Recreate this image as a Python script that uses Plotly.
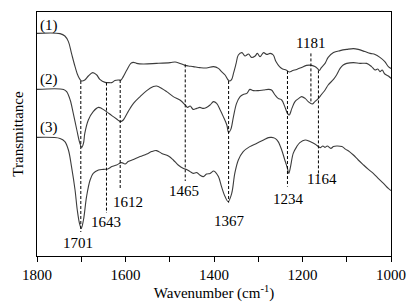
import plotly.graph_objects as go

# Wavenumbers (cm^-1) and transmittance (arbitrary units)
wn1 = [1800,1748,1737,1729,1722,1714,1707,1699,1692,1684,1674,1665,1658,1646,1639,1631,1624,1616,1610,1605,
       1597,1588,1582,1575,1560,1530,1499,1488,1477,1465,1458,1447,1432,1417,1401,1390,1383,1375,1368,1364,
       1360,1356,1350,1345,1337,1330,1322,1315,1307,1302,1296,1288,1281,1273,1266,1260,1252,1245,1237,1230,
       1222,1213,1202,1191,1179,1172,1166,1162,1157,1149,1142,1130,1115,1100,1085,1074,1059,1047,1036,1025,
       1014,1006,1000]
t1 = [111.3,111.2,110,107.2,101.3,94.7,90,87.5,88,90,91.7,90.5,88.3,86.8,86.7,86.7,87.7,88,88,89.7,
      93,96.3,96.8,96.3,96,96.3,96.7,97,96.3,95.3,95,94.7,94.2,94,94.7,93.8,92.2,90.5,88,87.5,
      88.3,91.3,96.3,100.5,101.7,100,101,99.3,100,101.3,99.7,101.7,100.8,101.3,100.5,97.2,94.7,93.5,93,92,
      92.7,93.3,94.3,95.3,95.3,94.7,93.7,92.8,94.3,96.3,99.3,101.7,102.7,103.3,103.7,103.3,102.2,101.3,100.8,99.3,
      97.2,94.7,93.8]

wn2 = [1800,1740,1733,1725,1718,1710,1703,1699,1695,1692,1684,1673,1661,1654,1643,1631,1620,1611,1605,1594,
       1582,1567,1552,1537,1530,1518,1507,1492,1477,1465,1460,1454,1447,1439,1432,1424,1417,1409,1401,1394,
       1386,1379,1371,1367,1362,1356,1349,1341,1334,1326,1319,1311,1300,1288,1277,1270,1262,1255,1247,1240,
       1234,1230,1224,1217,1209,1202,1194,1187,1178,1172,1164,1157,1149,1142,1130,1123,1115,1108,1100,1085,
       1070,1055,1044,1036,1030,1025,1020,1014,1006,1000]
t2 = [83.3,83.3,82.2,78,71.3,63,56.3,54.3,56.3,61.3,68,72.2,74.3,73.8,72.2,70.2,68.5,67.2,68,72.2,
      76.3,79.7,82.7,84.7,85,83.8,82.2,79.7,78,75.5,74.3,75,73.3,73.8,74.3,73.8,74.3,75.5,77.2,76.3,
      73,69.7,65.5,61.7,63.3,69.7,76.3,79.7,80.8,81.3,83.3,82.7,82.7,83,83.3,83,80.5,78.8,78,74.7,
      71.3,70.5,73.8,77.2,78.7,79.7,78.8,77.2,76,77.2,78.8,80.8,83,85.5,88.3,90.5,93.8,95.5,96.3,96.7,
      96.3,96.3,94.7,93,93.5,92.2,93,91,90,88.8]

wn3 = [1800,1748,1737,1729,1722,1714,1709,1704,1700,1695,1688,1680,1673,1661,1650,1640,1631,1620,1609,1601,
       1594,1582,1567,1552,1541,1530,1518,1503,1492,1481,1469,1462,1454,1447,1439,1432,1424,1417,1409,1401,
       1398,1390,1383,1375,1368,1360,1353,1345,1334,1319,1304,1288,1277,1270,1262,1255,1247,1240,1234,1231,
       1227,1221,1213,1206,1194,1183,1172,1164,1160,1154,1149,1144,1136,1130,1123,1111,1102,1094,1085,1074,
       1062,1051,1040,1029,1017,1006,1000]
t3 = [59.3,58.8,57.2,53,44.7,33,23,16.3,13.8,18,29.7,38,41.3,43,43.3,43.5,44.7,45.5,46.7,46,
      47.2,48.3,49.7,51,52.2,52.7,51.3,50,48,45.5,43.8,43.3,42.2,41.3,41.7,40.5,39.7,41,41.3,42.5,
      42.2,39.7,34.7,29.7,27.2,31.3,41.3,48,52.2,54.7,56.3,58,59.2,59.3,58.8,57.2,53,48,43.8,41.3,
      44.7,51.3,54.7,56.7,58,57.2,56,54.7,54.2,55,54.3,55,53.8,54.7,55,54.7,53.3,52.2,50.5,48,
      45.5,43.3,41.3,38.8,36.3,33.8,32.7]

curve_names = ["(1)", "(2)", "(3)"]
curve_label_wn = [1773, 1773, 1773]
curve_label_t = [115.5, 88.5, 64.5]

peaks = [1701, 1643, 1612, 1465, 1367, 1234, 1181, 1164]
peak_top = [87.5, 86.7, 88, 95.8, 87.5, 92.5, 101.3, 92.8]
peak_bottom = [12, 21.5, 33.5, 37.5, 26.7, 34.7, 76.5, 40]
peak_labels = ["1701", "1643", "1612", "1465", "1367", "1234", "1181", "1164"]
label_wn = [1707, 1645, 1594, 1467, 1364, 1232, 1183, 1157]
label_t = [6.7, 16.8, 26.8, 32.6, 17.6, 28.4, 106.3, 38.4]

FONT = "Liberation Serif"
LINE_COLOR = "#3c3c3c"

fig = go.Figure()
for w, t in [(wn1, t1), (wn2, t2), (wn3, t3)]:
    fig.add_trace(go.Scatter(x=w, y=t, mode="lines", line=dict(color=LINE_COLOR, width=1.1),
                             line_shape="spline", hoverinfo="skip", showlegend=False))

for p, a, b in zip(peaks, peak_top, peak_bottom):
    fig.add_trace(go.Scatter(x=[p, p], y=[a, b], mode="lines",
                             line=dict(color="black", width=1, dash="3px,2px"),
                             hoverinfo="skip", showlegend=False))

for txt, x, y in zip(peak_labels, label_wn, label_t):
    fig.add_annotation(x=x, y=y, text=txt, showarrow=False, xref="x", yref="y",
                       font=dict(family=FONT, size=15, color="black"))

for txt, x, y in zip(curve_names, curve_label_wn, curve_label_t):
    fig.add_annotation(x=x, y=y, text=txt, showarrow=False, xref="x", yref="y",
                       font=dict(family=FONT, size=15, color="black"))

fig.update_layout(
    width=416, height=304,
    margin=dict(l=37, r=25, t=12, b=48, autoexpand=False),
    paper_bgcolor="white", plot_bgcolor="white",
    font=dict(family=FONT, size=15, color="black"),
)
fig.update_xaxes(
    range=[1800, 1000], showgrid=False, zeroline=False, automargin=False,
    showline=True, linecolor="black", linewidth=1, mirror=True,
    ticks="outside", ticklen=5, tickwidth=1, tickcolor="black",
    tick0=1000, dtick=200,
    minor=dict(ticks="outside", ticklen=5, tickwidth=1, tickcolor="black", dtick=100, tick0=1000),
    tickfont=dict(family=FONT, size=15),
    title=dict(text="Wavenumber (cm<sup>-1</sup>)", font=dict(family=FONT, size=15), standoff=2),
)
fig.update_yaxes(
    range=[0, 122], showgrid=False, zeroline=False, automargin=False,
    showline=True, linecolor="black", linewidth=1, mirror=True,
    showticklabels=False, ticks="",
    title=dict(text="Transmittance", font=dict(family=FONT, size=15), standoff=8),
)

fig.write_html("out.html", config={"displayModeBar": False, "staticPlot": True},
               post_script="document.body.style.margin='0';")
